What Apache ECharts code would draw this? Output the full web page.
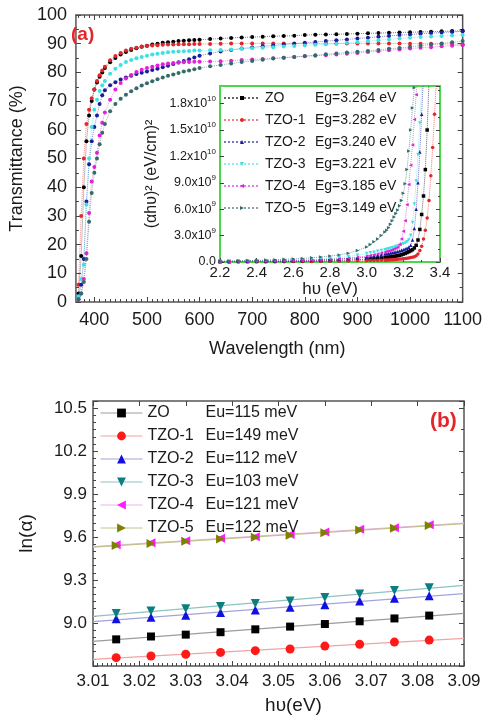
<!DOCTYPE html>
<html>
<head>
<meta charset="utf-8">
<title>Transmittance / band gap / Urbach energy</title>
<script src="https://cdn.jsdelivr.net/npm/echarts@6/dist/echarts.min.js"></script>
<style>
  html, body { margin: 0; padding: 0; background: #fff; }
  #chart { width: 485px; height: 721px; }
</style>
</head>
<body>
<div id="chart"></div>
<script>
// samples and their fitted values
const samples = ['ZO', 'TZO-1', 'TZO-2', 'TZO-3', 'TZO-4', 'TZO-5']
const bandGaps = ['3.264', '3.282', '3.240', '3.221', '3.185', '3.149']
const urbachEnergies = ['115', '149', '112', '103', '121', '122']

// (a) transmittance (%) vs wavelength (nm)
const wavelengths = [370, 375, 380, 385, 390, 395, 400, 405, 410, 415,
  420, 430, 440, 450, 460, 470, 480, 490, 500, 510, 520, 530, 540, 550, 560, 570, 580, 590, 600,
  620, 640, 660, 680, 700, 720, 740, 760, 780, 800, 820, 840, 860, 880, 900, 920, 940, 960, 980, 1000, 1020, 1040, 1060, 1080, 1100]
const wavelengthTicks = [400, 500, 600, 700, 800, 900, 1000, 1100]

const transZO = [3, 16, 40, 56, 65, 70, 74, 76.5, 78.5, 80,
  81.5, 83.5, 85, 86.2, 87.1, 87.8, 88.4, 88.9, 89.3, 89.7, 90, 90.3, 90.5, 90.7, 90.9, 91, 91.2, 91.3, 91.4,
  91.6, 91.8, 92, 92.2, 92.3, 92.4, 92.6, 92.7, 92.8, 93, 93.1, 93.2, 93.3, 93.4, 93.5, 93.6, 93.7, 93.8, 93.9, 94, 94.1, 94.2, 94.3, 94.4, 94.5]
const transTZO1 = [6, 30, 50, 62, 67, 71, 74, 77, 79, 80.7,
  82, 84.2, 85.7, 86.8, 87.6, 88.2, 88.6, 89, 89.2, 89.4, 89.5, 89.6, 89.7, 89.7, 89.8, 89.8, 89.8, 89.9, 89.9,
  89.9, 90, 90.1, 90.1, 90.1, 90.1, 90.1, 90.1, 90.1, 90.1, 90.1, 90.1, 90.1, 90.1, 90.1, 90.1, 90.1, 90.1, 90.1, 90, 90, 90, 89.9, 89.9, 89.8]
const transTZO2 = [2, 6, 15, 35, 48, 56, 61, 65, 69, 72,
  73.8, 75.5, 76.6, 77.5, 78.2, 78.8, 79.4, 79.9, 80.3, 80.8, 81.3, 81.8, 82.3, 82.9, 83.5, 84, 84.6, 85.2, 85.8,
  86.6, 87.3, 87.8, 88.3, 88.7, 89.1, 89.4, 89.7, 90, 90.3, 90.6, 90.9, 91.2, 91.5, 91.8, 92.1, 92.4, 92.7, 93, 93.2, 93.5, 93.7, 93.9, 94.1, 94.3]
const transTZO3 = [2, 8, 13, 34, 50, 61, 67, 70.5, 73.5, 75.5,
  77, 79.5, 81.3, 82.6, 83.6, 84.3, 84.9, 85.4, 85.8, 86.2, 86.5, 86.8, 87, 87.2, 87.3, 87.4, 87.5, 87.6, 87.6,
  87.7, 87.8, 88, 88.2, 88.4, 88.6, 88.8, 89, 89.2, 89.4, 89.6, 89.8, 90, 90.3, 90.6, 90.9, 91.2, 91.5, 91.8, 92.1, 92.3, 92.5, 92.7, 92.9, 93]
const transTZO4 = [1, 3, 8, 17, 31, 42, 47, 52, 58, 62.5,
  66, 70.5, 74, 76.3, 77.9, 79.1, 80.1, 80.9, 81.5, 82, 82.4, 82.8, 83.1, 83.3, 83.4, 83.5, 83.6, 83.7, 83.7,
  83.8, 83.9, 84.1, 84.3, 84.5, 84.7, 84.9, 85.1, 85.4, 85.6, 85.8, 86, 86.2, 86.5, 86.8, 87.1, 87.4, 87.7, 88, 88.3, 88.6, 88.8, 89.1, 89.3, 89.5]
const transTZO5 = [1, 3, 7, 15, 28, 38, 45, 50, 55, 59,
  62, 66.5, 69, 70.8, 72.2, 73.4, 74.5, 75.4, 76.2, 76.9, 77.6, 78.2, 78.8, 79.3, 79.8, 80.3, 80.7, 81.1, 81.5,
  82.1, 82.6, 83.1, 83.6, 84, 84.4, 84.8, 85.1, 85.4, 85.7, 86, 86.3, 86.6, 86.9, 87.2, 87.5, 87.8, 88.2, 88.5, 88.9, 89.3, 89.7, 90.1, 90.5, 90.9]

// inset: (alpha h nu)^2 in units of 1e10 (eV/cm)^2 vs photon energy (eV)
const photonEnergy = [2.20, 2.25, 2.30, 2.35, 2.40, 2.45, 2.50, 2.55, 2.60, 2.65, 2.70, 2.75, 2.80, 2.85, 2.90, 2.95, 3.00,
  3.02, 3.04, 3.06, 3.08, 3.10,
  3.11, 3.12, 3.13, 3.14, 3.15, 3.16, 3.17, 3.18, 3.19, 3.20, 3.21, 3.22, 3.23, 3.24, 3.25,
  3.26, 3.27, 3.28, 3.29, 3.30, 3.31, 3.32, 3.33, 3.34, 3.35, 3.36, 3.37, 3.38, 3.39, 3.40]

const absZO = [0.004, 0.004, 0.005, 0.005, 0.006, 0.006, 0.007, 0.008, 0.009, 0.010, 0.011, 0.013, 0.015, 0.018, 0.022, 0.027, 0.033,
  0.036, 0.039, 0.042, 0.046, 0.05,
  0.052, 0.055, 0.058, 0.061, 0.064, 0.068, 0.072, 0.077, 0.083, 0.09, 0.098, 0.107, 0.117, 0.128, 0.14,
  0.16, 0.19, 0.25, 0.37, 0.54, 0.75, 1.05, 1.5, 2.05, null, null, null, null, null, null]
const absTZO1 = [0.002, 0.002, 0.002, 0.003, 0.003, 0.003, 0.004, 0.004, 0.005, 0.005, 0.006, 0.007, 0.008, 0.009, 0.011, 0.013, 0.015,
  0.016, 0.017, 0.018, 0.02, 0.022,
  0.023, 0.024, 0.025, 0.026, 0.027, 0.029, 0.031, 0.033, 0.035, 0.037, 0.04, 0.043, 0.046, 0.05, 0.055,
  0.06, 0.07, 0.09, 0.13, 0.18, 0.26, 0.36, 0.5, 0.7, 0.98, 1.3, 1.68, 2.05, null, null]
const absTZO2 = [0.006, 0.007, 0.008, 0.009, 0.01, 0.011, 0.012, 0.014, 0.016, 0.018, 0.021, 0.025, 0.029, 0.034, 0.04, 0.047, 0.055,
  0.06, 0.067, 0.074, 0.082, 0.09,
  0.094, 0.098, 0.102, 0.106, 0.11, 0.115, 0.12, 0.126, 0.133, 0.14, 0.148, 0.157, 0.168, 0.19, 0.25,
  0.38, 0.6, 0.9, 1.25, 1.68, 2.12, null, null, null, null, null, null, null, null, null]
const absTZO3 = [0.007, 0.008, 0.009, 0.01, 0.011, 0.013, 0.015, 0.017, 0.02, 0.023, 0.027, 0.033, 0.04, 0.05, 0.062, 0.078, 0.096,
  0.104, 0.112, 0.121, 0.13, 0.14,
  0.145, 0.15, 0.156, 0.162, 0.168, 0.175, 0.182, 0.19, 0.198, 0.207, 0.217, 0.23, 0.25, 0.3, 0.45,
  0.66, 0.92, 1.22, 1.58, 2.02, null, null, null, null, null, null, null, null, null, null]
const absTZO4 = [0.005, 0.005, 0.006, 0.007, 0.008, 0.009, 0.01, 0.011, 0.013, 0.015, 0.018, 0.022, 0.027, 0.034, 0.043, 0.054, 0.068,
  0.075, 0.083, 0.092, 0.102, 0.113,
  0.119, 0.125, 0.132, 0.14, 0.148, 0.157, 0.168, 0.2, 0.26, 0.35, 0.47, 0.65, 0.88, 1.1, 1.33,
  1.62, 1.9, 2.2, null, null, null, null, null, null, null, null, null, null, null, null]
const absTZO5 = [0.01, 0.012, 0.014, 0.016, 0.019, 0.022, 0.026, 0.03, 0.035, 0.041, 0.048, 0.057, 0.067, 0.08, 0.1, 0.13, 0.17,
  0.2, 0.23, 0.26, 0.3, 0.34,
  0.36, 0.39, 0.43, 0.47, 0.51, 0.55, 0.59, 0.64, 0.7, 0.78, 0.89, 1.05, 1.26, 1.5, 1.75,
  1.98, 2.2, null, null, null, null, null, null, null, null, null, null, null, null, null]

// (b) ln(alpha) vs h nu (eV)
const hvB = [3.015, 3.0225, 3.03, 3.0375, 3.045, 3.0525, 3.06, 3.0675, 3.075, 3.0825]
const lnZO = [8.886, 8.906, 8.919, 8.936, 8.956, 8.975, 8.993, 9.012, 9.032, 9.052]
const lnTZO1 = [8.758, 8.770, 8.782, 8.795, 8.807, 8.819, 8.839, 8.852, 8.867, 8.881]
const lnTZO2 = [9.030, 9.041, 9.054, 9.074, 9.091, 9.111, 9.128, 9.153, 9.173, 9.190]
const lnTZO3 = [9.067, 9.084, 9.099, 9.116, 9.136, 9.153, 9.178, 9.202, 9.227, 9.247]
const lnTZO4 = [9.546, 9.561, 9.575, 9.591, 9.602, 9.618, 9.636, 9.654, 9.666, 9.686]
const lnTZO5 = [9.541, 9.556, 9.571, 9.586, 9.598, 9.613, 9.631, 9.649, 9.662, 9.681]

const transSets = [transZO, transTZO1, transTZO2, transTZO3, transTZO4, transTZO5]
const absSets = [absZO, absTZO1, absTZO2, absTZO3, absTZO4, absTZO5]
const lnSets = [lnZO, lnTZO1, lnTZO2, lnTZO3, lnTZO4, lnTZO5]

// styles
const FONT = '"Liberation Sans", Arial, sans-serif'
const INK = '#1a1a1a'
const FRAME = '#555'
const TICK = { color: '#444', width: 1 }
const colorsA = ['#000000', '#e3262b', '#1c1c9c', '#3fe0e0', '#e021d8', '#336b6b']
const colorsB = ['#000000', '#ff1a1a', '#1010e0', '#0b7f80', '#ff1aff', '#808000']
const fitColors = ['#9c9c9c', '#f2a3a3', '#a3a3dc', '#8fc2c2', '#eeb0ee', '#c2c28f']
const symbols = ['rect', 'circle', 'triangle', 'triangle', 'triangle', 'triangle']
const rotations = [0, 0, 0, 180, 90, -90]

// least squares line through the points, drawn across [x0, x1]
function fitLine(xs, ys, x0, x1) {
  const n = xs.length
  const mx = xs.reduce((s, v) => s + v, 0) / n
  const my = ys.reduce((s, v) => s + v, 0) / n
  let sxy = 0, sxx = 0
  for (let i = 0; i < n; i++) {
    sxy += (xs[i] - mx) * (ys[i] - my)
    sxx += (xs[i] - mx) * (xs[i] - mx)
  }
  const b = sxy / sxx
  const a = my - b * mx
  return [[x0, a + b * x0], [x1, a + b * x1]]
}

const minorWave = []
for (let w = 370; w <= 1100; w += 10) {
  if (w % 100 !== 0) minorWave.push(w)
}

function mirrorX(grid, min, max, pos, extra) {
  return Object.assign({
    gridIndex: grid, type: 'value', min: min, max: max, position: pos,
    axisLine: { show: false }, axisLabel: { show: false }, splitLine: { show: false },
    axisTick: { inside: true, length: 5, lineStyle: TICK }
  }, extra)
}

const xAxis = [
  { // 0: (a) bottom
    gridIndex: 0, type: 'value', min: 365, max: 1100,
    name: 'Wavelength (nm)', nameLocation: 'middle', nameGap: 38,
    nameTextStyle: { fontFamily: FONT, fontSize: 18, color: INK, padding: [0, 0, 0, 16] },
    axisLine: { show: false },
    axisTick: { inside: true, length: 5, customValues: wavelengthTicks, lineStyle: TICK },
    axisLabel: { customValues: wavelengthTicks, fontFamily: FONT, fontSize: 18, color: INK, margin: 9, formatter: v => String(v) },
    splitLine: { show: false }
  },
  // 1-3: (a) minor ticks and top mirror
  mirrorX(0, 365, 1100, 'bottom', { axisTick: { inside: true, length: 3, customValues: minorWave, lineStyle: TICK } }),
  mirrorX(0, 365, 1100, 'top', { axisTick: { inside: true, length: 5, customValues: wavelengthTicks, lineStyle: TICK } }),
  mirrorX(0, 365, 1100, 'top', { axisTick: { inside: true, length: 3, customValues: minorWave, lineStyle: TICK } }),
  { // 4: inset bottom
    gridIndex: 1, type: 'value', min: 2.2, max: 3.4, interval: 0.2,
    name: 'h\u03c5 (eV)', nameLocation: 'middle', nameGap: 18,
    nameTextStyle: { fontFamily: FONT, fontSize: 17, color: INK },
    axisLine: { show: false },
    axisTick: { inside: true, length: 4, lineStyle: TICK },
    minorTick: { show: true, splitNumber: 2, length: 2, lineStyle: TICK },
    axisLabel: { fontFamily: FONT, fontSize: 15, color: INK, margin: 3, formatter: v => v.toFixed(1) },
    splitLine: { show: false }
  },
  { // 5: (b) bottom
    gridIndex: 2, type: 'value', min: 3.01, max: 3.09, interval: 0.01,
    name: 'h\u03c5(eV)', nameLocation: 'middle', nameGap: 30,
    nameTextStyle: { fontFamily: FONT, fontSize: 19, color: INK, padding: [0, 0, 0, 30] },
    axisLine: { show: false },
    axisTick: { inside: true, length: 5, lineStyle: TICK },
    minorTick: { show: true, splitNumber: 10, length: 3, lineStyle: TICK },
    axisLabel: { fontFamily: FONT, fontSize: 17, color: INK, margin: 7, formatter: v => v.toFixed(2) },
    splitLine: { show: false }
  },
  // 6: (b) top mirror
  mirrorX(2, 3.01, 3.09, 'top', { interval: 0.01 })
]

const yAxis = [
  { // 0: (a) left
    gridIndex: 0, type: 'value', min: 0, max: 100, interval: 10,
    name: 'Transmittance (%)', nameLocation: 'middle', nameGap: 40,
    nameTextStyle: { fontFamily: FONT, fontSize: 18, color: INK },
    axisLine: { show: false },
    axisTick: { inside: true, length: 5, lineStyle: TICK },
    minorTick: { show: true, splitNumber: 2, length: 3, lineStyle: TICK },
    axisLabel: { fontFamily: FONT, fontSize: 18, color: INK, margin: 9 },
    splitLine: { show: false }
  },
  { // 1: (a) right mirror
    gridIndex: 0, type: 'value', min: 0, max: 100, interval: 10, position: 'right',
    axisLine: { show: false }, axisLabel: { show: false }, splitLine: { show: false },
    axisTick: { inside: true, length: 5, lineStyle: TICK },
    minorTick: { show: true, splitNumber: 2, length: 3, lineStyle: TICK }
  },
  { // 2: inset left
    gridIndex: 1, type: 'value', min: 0, max: 2.0, interval: 0.3,
    name: '(\u03b1h\u03c5)\u00b2 (eV/cm)\u00b2', nameLocation: 'middle', nameGap: 60,
    nameTextStyle: { fontFamily: FONT, fontSize: 16, color: INK },
    axisLine: { show: false },
    axisTick: { inside: true, length: 4, lineStyle: TICK },
    axisLabel: {
      fontFamily: FONT, color: INK, margin: 4, showMaxLabel: false,
      formatter: v => {
        if (v < 0.01) return '{b|0.0}'
        if (v < 1) return '{b|' + (v * 10).toFixed(1) + 'x10}{s|9}'
        return '{b|' + v.toFixed(1) + 'x10}{s|10}'
      },
      rich: {
        b: { fontFamily: FONT, fontSize: 12.5, lineHeight: 18, color: INK },
        s: { fontFamily: FONT, fontSize: 8, lineHeight: 11, verticalAlign: 'top', color: INK }
      }
    },
    splitLine: { show: false }
  },
  { // 3: inset right mirror
    gridIndex: 1, type: 'value', min: 0, max: 2.0, interval: 0.3, position: 'right',
    axisLine: { show: false }, axisLabel: { show: false }, splitLine: { show: false },
    axisTick: { inside: true, length: 4, lineStyle: TICK },
    minorTick: { show: true, splitNumber: 2, length: 2, lineStyle: TICK }
  },
  { // 4: (b) left
    gridIndex: 2, type: 'value', min: 8.7, max: 10.55, interval: 0.3,
    name: 'ln(\u03b1)', nameLocation: 'middle', nameGap: 57,
    nameTextStyle: { fontFamily: FONT, fontSize: 19, color: INK },
    axisLine: { show: false },
    axisTick: { inside: true, length: 5, lineStyle: TICK },
    minorTick: { show: true, splitNumber: 6, length: 3, lineStyle: TICK },
    axisLabel: {
      fontFamily: FONT, fontSize: 17, color: INK, margin: 6,
      showMinLabel: false, showMaxLabel: false, formatter: v => v.toFixed(1)
    },
    splitLine: { show: false }
  },
  { // 5: (b) right mirror
    gridIndex: 2, type: 'value', min: 8.7, max: 10.55, interval: 0.3, position: 'right',
    axisLine: { show: false }, axisLabel: { show: false }, splitLine: { show: false },
    axisTick: { inside: true, length: 5, lineStyle: TICK },
    minorTick: { show: true, splitNumber: 2, length: 3, lineStyle: TICK }
  }
]

const series = []

transSets.forEach((vals, i) => {
  series.push({
    name: 'T ' + samples[i], type: 'line', xAxisIndex: 0, yAxisIndex: 0,
    data: wavelengths.map((w, k) => [w, vals[k]]),
    symbol: 'circle', symbolSize: 4, showAllSymbol: true,
    itemStyle: { color: colorsA[i] },
    lineStyle: { color: colorsA[i], width: 1, type: 'dotted', opacity: 0.5 },
    silent: true, z: 3
  })
})

absSets.forEach((vals, i) => {
  series.push({
    name: 'inset ' + samples[i], type: 'line', xAxisIndex: 4, yAxisIndex: 2,
    data: photonEnergy.map((e, k) => [e, vals[k]]),
    symbol: symbols[i], symbolRotate: rotations[i], symbolSize: 3.5, showAllSymbol: true,
    itemStyle: { color: colorsA[i] },
    lineStyle: { color: colorsA[i], width: 1, type: 'dotted', opacity: 0.6 },
    clip: true, silent: true, z: 4
  })
})

lnSets.forEach((vals, i) => {
  series.push({
    name: 'fit ' + samples[i], type: 'line', xAxisIndex: 5, yAxisIndex: 4,
    data: fitLine(hvB, vals, 3.01, 3.09),
    symbol: 'none', lineStyle: { color: fitColors[i], width: 1.2 },
    silent: true, z: 2
  })
  series.push({
    name: samples[i], type: 'line', xAxisIndex: 5, yAxisIndex: 4,
    data: hvB.map((x, k) => [x, vals[k]]),
    symbol: symbols[i], symbolRotate: rotations[i], symbolSize: i === 0 ? 8 : 9,
    itemStyle: { color: colorsB[i] },
    lineStyle: { color: fitColors[i], width: 1, opacity: 0 },
    silent: true, z: 3
  })
})

const richText = size => ({
  fontFamily: FONT, color: INK,
  rich: {
    n: { width: size === 14 ? 50 : 58, fontSize: size, lineHeight: size, fontFamily: FONT, color: INK },
    e: { fontSize: size, lineHeight: size, fontFamily: FONT, color: INK }
  }
})

const option = {
  backgroundColor: '#fff',
  animation: false,
  title: [
    { text: '(a)', left: 71, top: 25, padding: 0, textStyle: { color: '#e3262b', fontSize: 19, fontWeight: 'bold', fontFamily: FONT } },
    { text: '(b)', left: 430, top: 411, padding: 0, textStyle: { color: '#e3262b', fontSize: 21, fontWeight: 'bold', fontFamily: FONT } }
  ],
  grid: [
    { left: 68, top: 15, width: 395, height: 287, show: true, borderColor: FRAME, borderWidth: 1.5, backgroundColor: 'transparent' },
    { left: 220, top: 86, width: 220, height: 176, show: true, borderColor: '#4cd64c', borderWidth: 2, backgroundColor: '#fff' },
    { left: 93, top: 401, width: 371, height: 265, show: true, borderColor: FRAME, borderWidth: 1.5, backgroundColor: 'transparent' }
  ],
  legend: [
    {
      data: samples.map(s => 'inset ' + s),
      left: 223, top: 91, orient: 'vertical', padding: 0,
      itemWidth: 36, itemHeight: 5, itemGap: 8, selectedMode: false,
      formatter: name => {
        const i = samples.indexOf(name.slice(6))
        return '{n|' + samples[i] + '}{e|Eg=' + bandGaps[i] + ' eV}'
      },
      textStyle: richText(14)
    },
    {
      data: samples.map((s, i) => ({ name: s, lineStyle: { color: fitColors[i], width: 1, opacity: 1, type: 'solid' } })),
      left: 100, top: 405, orient: 'vertical', padding: 0,
      itemWidth: 42, itemHeight: 11, itemGap: 7, selectedMode: false,
      formatter: name => '{n|' + name + '}{e|Eu=' + urbachEnergies[samples.indexOf(name)] + ' meV}',
      textStyle: richText(16)
    }
  ],
  xAxis: xAxis,
  yAxis: yAxis,
  series: series
}

const chart = echarts.init(document.getElementById('chart'))
chart.setOption(option)
</script>
</body>
</html>
